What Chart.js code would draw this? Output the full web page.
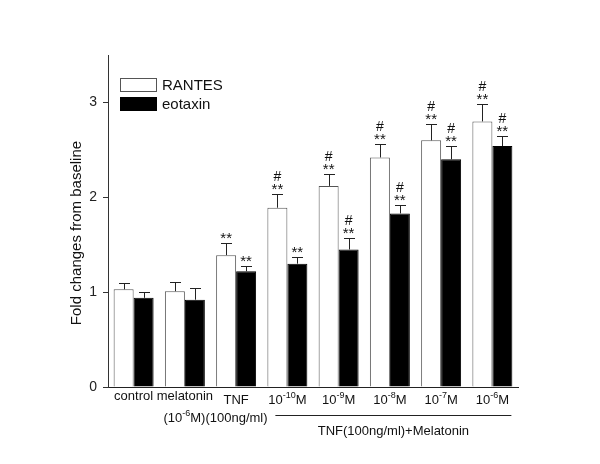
<!DOCTYPE html>
<html>
<head>
<meta charset="utf-8">
<script src="https://cdn.jsdelivr.net/npm/chart.js@4.4.1/dist/chart.umd.min.js"></script>
<style>
  html, body { margin: 0; padding: 0; background: #fff; }
  canvas { display: block; }
</style>
</head>
<body>
<canvas id="chart" width="600" height="464"></canvas>
<script>
// group labels (^{..} = superscript)
const groups = ['control', 'melatonin', 'TNF', '10^{-10}M', '10^{-9}M', '10^{-8}M', '10^{-7}M', '10^{-6}M'];
const subLabel = '(10^{-6}M)(100ng/ml)';   // under melatonin + TNF
const groupNote = 'TNF(100ng/ml)+Melatonin';

const seriesNames = ['RANTES', 'eotaxin'];
const rantes     = [1.03, 1.01, 1.39, 1.89, 2.12, 2.42, 2.60, 2.80];
const rantesErr  = [0.07, 0.10, 0.13, 0.14, 0.13, 0.14, 0.17, 0.18];
const eotaxin    = [0.94, 0.92, 1.22, 1.30, 1.45, 1.83, 2.40, 2.54];
const eotaxinErr = [0.06, 0.12, 0.06, 0.07, 0.12, 0.09, 0.14, 0.11];

// significance marks
const rantesStars  = [0, 0, 1, 1, 1, 1, 1, 1];
const rantesHash   = [0, 0, 0, 1, 1, 1, 1, 1];
const eotaxinStars = [0, 0, 1, 1, 1, 1, 1, 1];
const eotaxinHash  = [0, 0, 0, 0, 1, 1, 1, 1];

const yTicks = [0, 1, 2, 3];

const FONT = '"Liberation Sans", Arial, sans-serif';

function parseRich(str) {
  const parts = [];
  const re = /\^\{([^}]*)\}/g;
  let last = 0, m;
  while ((m = re.exec(str))) {
    if (m.index > last) parts.push({ t: str.slice(last, m.index), sup: false });
    parts.push({ t: m[1], sup: true });
    last = re.lastIndex;
  }
  if (last < str.length) parts.push({ t: str.slice(last), sup: false });
  return parts;
}

function drawRich(ctx, str, cx, base, size) {
  const parts = parseRich(str);
  const supSize = Math.round(size * 0.7);
  let w = 0;
  parts.forEach(p => {
    ctx.font = (p.sup ? supSize : size) + 'px ' + FONT;
    p.w = ctx.measureText(p.t).width;
    w += p.w;
  });
  let x = cx - w / 2;
  ctx.textAlign = 'left';
  ctx.textBaseline = 'alphabetic';
  parts.forEach(p => {
    ctx.font = (p.sup ? supSize : size) + 'px ' + FONT;
    ctx.fillText(p.t, x, p.sup ? base - size * 0.45 : base);
    x += p.w;
  });
}

const errs = [rantesErr, eotaxinErr];
const stars = [rantesStars, eotaxinStars];
const hashes = [rantesHash, eotaxinHash];

const extras = {
  id: 'extras',
  afterDatasetsDraw(chart) {
    const { ctx, scales: { x, y } } = chart;
    ctx.save();
    ctx.strokeStyle = '#222';
    ctx.fillStyle = '#111';
    ctx.lineWidth = 1;
    chart.data.datasets.forEach((ds, di) => {
      const meta = chart.getDatasetMeta(di);
      meta.data.forEach((bar, i) => {
        const top = y.getPixelForValue(ds.data[i]);
        const capY = Math.round(y.getPixelForValue(ds.data[i] + errs[di][i])) + 0.5;
        const bx = Math.round(bar.x) + 0.5;
        ctx.beginPath();
        ctx.moveTo(bx, top);
        ctx.lineTo(bx, capY);
        ctx.moveTo(bx - 5.5, capY);
        ctx.lineTo(bx + 5.5, capY);
        ctx.stroke();
        ctx.textAlign = 'center';
        ctx.textBaseline = 'alphabetic';
        if (stars[di][i]) {
          ctx.font = '15px ' + FONT;
          ctx.fillText('**', bar.x, capY - 0.5);
        }
        if (hashes[di][i]) {
          ctx.font = '14px ' + FONT;
          ctx.fillText('#', bar.x, capY - 13.5);
        }
      });
    });
    ctx.restore();
  },
  afterDraw(chart) {
    const { ctx, scales: { x, y }, chartArea } = chart;
    ctx.save();
    ctx.fillStyle = '#111';
    // category labels
    groups.forEach((g, i) => {
      const cx = x.getPixelForValue(i);
      const base = i < 2 ? 400 : 404;
      drawRich(ctx, g, cx, base, 13);
    });
    drawRich(ctx, subLabel, (x.getPixelForValue(1) + x.getPixelForValue(2)) / 2 + 5, 422, 13);
    // bracket line under the melatonin + TNF groups
    const x0 = x.getPixelForValue(3) - 12;
    const x1 = x.getPixelForValue(7) + 19;
    ctx.strokeStyle = '#222';
    ctx.lineWidth = 1;
    ctx.beginPath();
    ctx.moveTo(x0, 415.5);
    ctx.lineTo(x1, 415.5);
    ctx.stroke();
    drawRich(ctx, groupNote, (x0 + x1) / 2, 435, 13);

    // y title
    ctx.save();
    ctx.translate(77, (chartArea.top + chartArea.bottom) / 2 + 12);
    ctx.rotate(-Math.PI / 2);
    ctx.font = '15px ' + FONT;
    ctx.textAlign = 'center';
    ctx.textBaseline = 'middle';
    ctx.fillText('Fold changes from baseline', 0, 0);
    ctx.restore();

    // legend
    const lx = 120, lw = 37, lh = 14;
    const rows = [78, 97];
    chart.data.datasets.forEach((ds, di) => {
      const ly = rows[di];
      ctx.fillStyle = ds.backgroundColor;
      ctx.fillRect(lx, ly, lw, lh);
      ctx.strokeStyle = ds.borderColor;
      ctx.strokeRect(lx + 0.5, ly + 0.5, lw - 1, lh - 1);
      ctx.fillStyle = '#111';
      ctx.font = '15px ' + FONT;
      ctx.textAlign = 'left';
      ctx.textBaseline = 'middle';
      ctx.fillText(ds.label, lx + lw + 5, ly + lh / 2 + 0.5);
    });
    ctx.restore();
  }
};

new Chart(document.getElementById('chart'), {
  type: 'bar',
  data: {
    labels: groups,
    datasets: [
      { label: seriesNames[0], data: rantes, backgroundColor: '#ffffff', borderColor: '#555555', borderWidth: 1 },
      { label: seriesNames[1], data: eotaxin, backgroundColor: '#000000', borderColor: '#000000', borderWidth: 1 },
    ],
  },
  options: {
    responsive: false,
    animation: false,
    categoryPercentage: 0.78,
    barPercentage: 1.0,
    layout: { padding: { top: 55, right: 82, left: 0, bottom: 0 } },
    plugins: { legend: { display: false }, tooltip: { enabled: false } },
    scales: {
      x: {
        grid: { display: false },
        border: { display: true, color: '#222', width: 1 },
        ticks: { display: false },
        afterFit: s => { s.height = 77; },
      },
      y: {
        min: 0, max: 3.5,
        afterFit: s => { s.width = 108; },
        afterBuildTicks: s => { s.ticks = yTicks.map(v => ({ value: v })); },
        grid: { display: true, drawOnChartArea: false, drawTicks: true, tickLength: 5, color: '#333' },
        border: { display: true, color: '#333', width: 1 },
        ticks: { padding: 6, color: '#222', font: { family: FONT, size: 14 } },
      },
    },
  },
  plugins: [extras],
});
</script>
</body>
</html>
